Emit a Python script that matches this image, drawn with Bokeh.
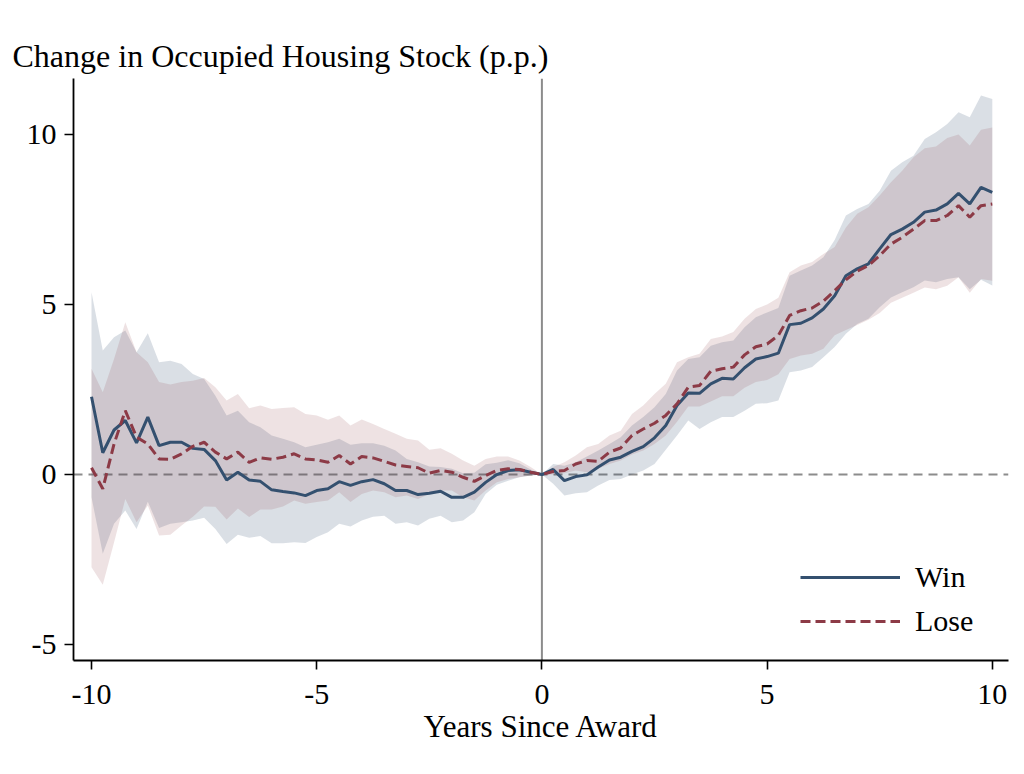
from bokeh.plotting import figure
from bokeh.models import Span, FixedTicker, Legend, LegendItem, Range1d, ColumnDataSource
from bokeh.embed import file_html
from bokeh.resources import INLINE

# quarters since award, -10 .. 10
years = [q / 4 for q in range(-40, 41)]

win = [2.29, 0.64, 1.31, 1.59, 0.93, 1.69, 0.85, 0.95, 0.95, 0.77, 0.74, 0.41, -0.16, 0.07, -0.16, -0.20, -0.45, -0.50, -0.54, -0.62, -0.47,
       -0.42, -0.21, -0.32, -0.21, -0.15, -0.27, -0.47, -0.47, -0.59, -0.55, -0.49, -0.67, -0.67, -0.52, -0.23, 0.00, 0.12, 0.14, 0.07, 0.00,
       0.15, -0.18, -0.06, -0.01, 0.22, 0.43, 0.51, 0.68, 0.82, 1.08, 1.44, 2.03, 2.40, 2.39, 2.67, 2.83, 2.81, 3.14, 3.40, 3.47,
       3.57, 4.41, 4.45, 4.61, 4.87, 5.26, 5.85, 6.05, 6.20, 6.64, 7.06, 7.22, 7.42, 7.72, 7.78, 7.96, 8.27, 7.96, 8.45, 8.30]

win_hi = [5.36, 3.65, 4.04, 4.24, 3.60, 4.16, 3.30, 3.35, 3.25, 2.96, 2.81, 2.32, 1.74, 1.88, 1.54, 1.39, 1.15, 1.05, 0.95, 0.80, 0.88,
          0.95, 1.05, 0.88, 0.92, 0.92, 0.85, 0.71, 0.46, 0.36, 0.24, 0.22, 0.17, 0.04, 0.05, 0.30, 0.35, 0.42, 0.33, 0.15, 0.00,
          0.31, 0.26, 0.36, 0.53, 0.71, 0.90, 1.10, 1.44, 1.69, 1.98, 2.37, 3.06, 3.40, 3.45, 3.79, 3.89, 3.94, 4.33, 4.63, 4.77,
          4.90, 5.85, 6.00, 6.15, 6.39, 6.90, 7.62, 7.81, 7.96, 8.35, 8.94, 9.19, 9.38, 9.87, 10.07, 10.31, 10.66, 10.51, 11.15, 11.05]

win_lo = [-0.67, -2.33, -1.45, -1.06, -1.60, -0.80, -1.57, -1.45, -1.40, -1.35, -1.27, -1.60, -2.04, -1.77, -1.86, -1.81, -2.02, -2.02, -1.99, -2.01, -1.84,
          -1.70, -1.45, -1.53, -1.35, -1.24, -1.21, -1.45, -1.40, -1.50, -1.30, -1.21, -1.40, -1.35, -1.11, -0.57, -0.30, -0.18, -0.08, -0.03, 0.00,
          -0.27, -0.62, -0.55, -0.52, -0.32, -0.16, -0.13, 0.00, 0.12, 0.31, 0.73, 1.15, 1.59, 1.34, 1.54, 1.69, 1.69, 1.88, 2.08, 2.10,
          2.18, 3.01, 3.06, 3.16, 3.45, 3.75, 4.14, 4.43, 4.58, 4.92, 5.21, 5.36, 5.51, 5.71, 5.66, 5.75, 5.80, 5.45, 5.73, 5.56]

lose = [0.20, -0.42, 0.90, 1.88, 1.10, 0.90, 0.46, 0.45, 0.61, 0.83, 0.95, 0.66, 0.46, 0.66, 0.36, 0.49, 0.45, 0.51, 0.61, 0.46, 0.43,
        0.36, 0.56, 0.31, 0.53, 0.49, 0.39, 0.28, 0.24, 0.20, 0.04, 0.12, 0.07, -0.08, -0.20, -0.03, 0.12, 0.17, 0.15, 0.07, 0.00,
        0.09, 0.12, 0.31, 0.41, 0.39, 0.66, 0.78, 1.15, 1.34, 1.51, 1.74, 2.08, 2.57, 2.62, 3.04, 3.11, 3.16, 3.52, 3.76, 3.84,
        4.09, 4.68, 4.82, 4.90, 5.10, 5.41, 5.73, 5.98, 6.15, 6.44, 6.78, 6.98, 7.22, 7.47, 7.47, 7.62, 7.91, 7.57, 7.91, 7.96]

lose_hi = [3.11, 2.42, 3.40, 4.48, 3.60, 3.30, 2.72, 2.65, 2.72, 2.76, 2.84, 2.57, 2.18, 2.37, 1.95, 2.03, 1.93, 1.96, 1.98, 1.78, 1.74,
           1.61, 1.74, 1.44, 1.62, 1.49, 1.34, 1.20, 1.05, 1.00, 0.73, 0.77, 0.61, 0.41, 0.26, 0.46, 0.53, 0.53, 0.41, 0.22, 0.00,
           0.22, 0.36, 0.56, 0.80, 0.90, 1.15, 1.29, 1.78, 2.03, 2.37, 2.67, 3.30, 3.45, 3.55, 3.99, 4.06, 4.19, 4.58, 4.87, 5.00,
           5.20, 5.95, 6.15, 6.25, 6.49, 6.69, 7.27, 7.67, 7.86, 8.21, 8.60, 8.94, 9.33, 9.60, 9.65, 9.90, 10.00, 9.68, 10.14, 10.21]

lose_lo = [-2.73, -3.24, -2.00, -0.72, -1.40, -0.91, -1.79, -1.77, -1.50, -1.24, -0.94, -0.95, -1.32, -1.00, -1.25, -1.03, -1.03, -0.94, -0.76, -0.86, -0.81,
           -0.76, -0.52, -0.81, -0.57, -0.47, -0.52, -0.67, -0.62, -0.72, -0.57, -0.47, -0.47, -0.67, -0.76, -0.47, -0.23, -0.13, -0.08, -0.03, 0.00,
           0.00, 0.04, 0.12, 0.07, 0.17, 0.31, 0.41, 0.59, 0.71, 0.90, 1.15, 1.55, 2.00, 2.00, 2.15, 2.30, 2.30, 2.55, 2.72, 2.78,
           2.95, 3.40, 3.50, 3.55, 3.70, 4.10, 4.25, 4.40, 4.55, 4.75, 5.05, 5.20, 5.35, 5.50, 5.45, 5.55, 5.80, 5.35, 5.75, 5.70]

x_ticks = [-10, -5, 0, 5, 10]
y_ticks = [-5, 0, 5, 10]
series_labels = ["Win", "Lose"]
title_text = "Change in Occupied Housing Stock (p.p.)"
x_label = "Years Since Award"

WIN_C = "#34506f"
LOSE_C = "#8c3a46"
FONT = "Liberation Serif"

src = ColumnDataSource(dict(x=years, win=win, win_hi=win_hi, win_lo=win_lo,
                            lose=lose, lose_hi=lose_hi, lose_lo=lose_lo))

p = figure(width=1016, height=758, output_backend="svg", toolbar_location=None,
           x_range=Range1d(-10.4, 10.36), y_range=Range1d(-5.47, 11.65),
           min_border_left=73, min_border_right=8, min_border_top=78, min_border_bottom=98)

p.varea(x="x", y1="win_lo", y2="win_hi", source=src, fill_color=WIN_C, fill_alpha=0.18)
p.varea(x="x", y1="lose_lo", y2="lose_hi", source=src, fill_color=LOSE_C, fill_alpha=0.15)

p.add_layout(Span(location=0, dimension="height", line_color="#8c8c8c", line_width=2, level="underlay"))
p.add_layout(Span(location=0, dimension="width", line_color="#8c8c8c", line_width=2, line_dash="9 6", level="underlay"))

r_win = p.line(x="x", y="win", source=src, line_color=WIN_C, line_width=3)
r_lose = p.line(x="x", y="lose", source=src, line_color=LOSE_C, line_width=3, line_dash="10 5")

legend = Legend(items=[LegendItem(label=series_labels[0], renderers=[r_win]),
                       LegendItem(label=series_labels[1], renderers=[r_lose])],
                location=(727, 22), border_line_color=None, background_fill_alpha=0,
                label_text_font=FONT, label_text_font_size="30px", label_text_color="black",
                glyph_width=100, glyph_height=34, label_height=34, spacing=10,
                label_standoff=15, padding=4, margin=0)
p.add_layout(legend)

p.title.text = title_text
p.title.text_font = FONT
p.title.text_font_size = "32px"
p.title.text_font_style = "normal"
p.title.text_color = "black"
p.title.align = "left"
p.title.offset = -61
p.title.standoff = 9

p.xgrid.visible = False
p.ygrid.visible = False
p.outline_line_color = None
p.background_fill_color = "white"
p.border_fill_color = "white"

for ax in (p.xaxis[0], p.yaxis[0]):
    ax.axis_line_color = "black"
    ax.axis_line_width = 1.8
    ax.major_tick_line_color = "black"
    ax.major_tick_line_width = 1.6
    ax.major_tick_out = 9
    ax.major_tick_in = 0
    ax.minor_tick_line_color = None
    ax.major_label_text_font = FONT
    ax.major_label_text_font_size = "30px"
    ax.major_label_text_color = "black"

p.xaxis.ticker = FixedTicker(ticks=x_ticks)
p.yaxis.ticker = FixedTicker(ticks=y_ticks)
p.xaxis.major_label_overrides = {t: str(t) for t in x_ticks}
p.yaxis.major_label_overrides = {t: str(t) for t in y_ticks}
p.xaxis.major_label_standoff = 15
p.yaxis.major_label_standoff = 8
p.xaxis.axis_label = x_label
p.xaxis.axis_label_text_font = FONT
p.xaxis.axis_label_text_font_size = "31px"
p.xaxis.axis_label_text_font_style = "normal"
p.xaxis.axis_label_text_color = "black"
p.xaxis.axis_label_standoff = 2

open("out.html", "w").write(file_html(p, INLINE))
